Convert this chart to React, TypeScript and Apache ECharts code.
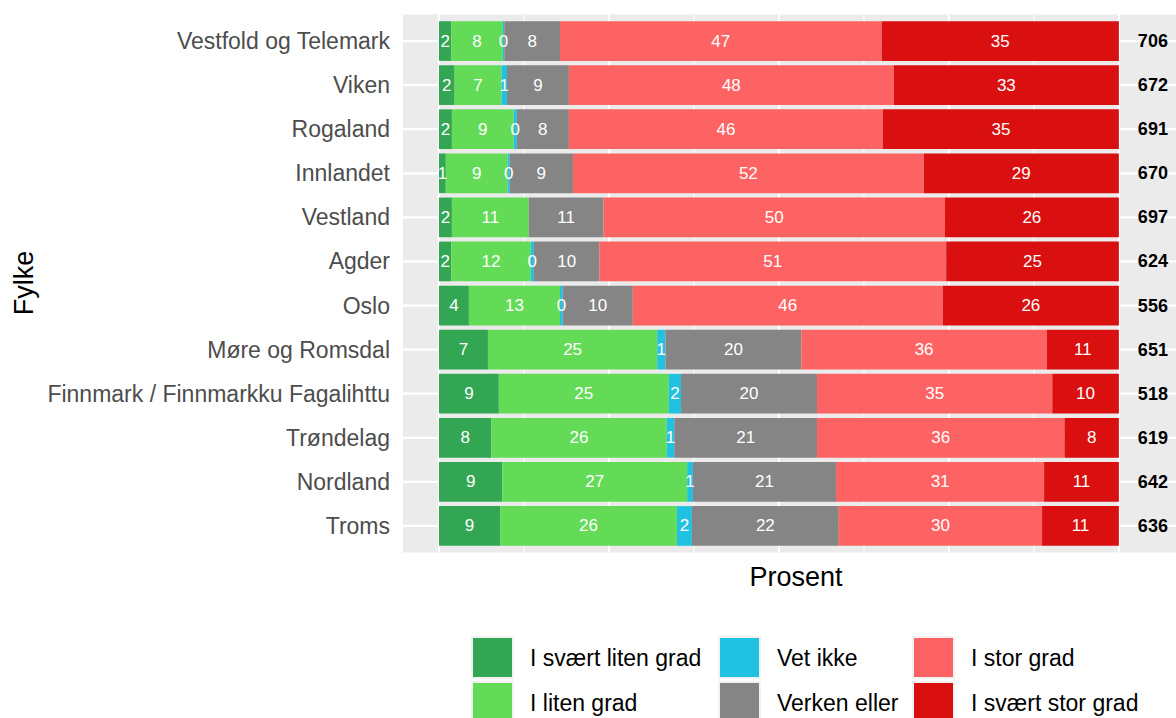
import React, { useEffect, useRef } from "react";
import * as echarts from "echarts";

const categories = [
  "Vestfold og Telemark",
  "Viken",
  "Rogaland",
  "Innlandet",
  "Vestland",
  "Agder",
  "Oslo",
  "Møre og Romsdal",
  "Finnmark / Finnmarkku Fagalihttu",
  "Trøndelag",
  "Nordland",
  "Troms",
];

const responseLevels = [
  "I svært liten grad",
  "I liten grad",
  "Vet ikke",
  "Verken eller",
  "I stor grad",
  "I svært stor grad",
];

const levelColors = ["#32A652", "#63DB57", "#21C2E1", "#858585", "#FE6363", "#DA1010"];

const sværtLitenGrad = [1.8, 2.3, 1.9, 1.0, 1.9, 1.8, 4.4, 7.2, 8.8, 7.7, 9.3, 9.0];
const litenGrad = [7.6, 6.9, 9.1, 9.1, 11.3, 11.7, 13.4, 24.9, 25.0, 25.8, 27.2, 26.0];
const vetIkke = [0.2, 0.8, 0.45, 0.3, null, 0.45, 0.4, 1.2, 1.8, 1.1, 0.85, 2.2];
const verkenEller = [8.2, 9.1, 7.65, 9.3, 11.0, 9.65, 10.3, 20.0, 20.0, 21.0, 21.05, 21.6];
const storGrad = [47.3, 47.8, 46.2, 51.6, 50.2, 51.0, 45.6, 36.1, 34.6, 36.4, 30.6, 29.9];
const sværtStorGrad = [34.9, 33.1, 34.7, 28.7, 25.6, 25.4, 25.9, 10.6, 9.8, 8.0, 11.0, 11.3];

const antallSvar = [706, 672, 691, 670, 697, 624, 556, 651, 518, 619, 642, 636];

const xBreaksMajor = [0, 25, 50, 75, 100];
const xBreaksMinor = [12.5, 37.5, 62.5, 87.5];

const seriesValues = [sværtLitenGrad, litenGrad, vetIkke, verkenEller, storGrad, sværtStorGrad];

// legend layout: column-major, 3 columns x 2 rows
const legendColumnsLeft = [471, 718, 912];
const legendRowsTop = [636, 681];

const FONT = "'Liberation Sans', Arial, Helvetica, sans-serif";

export default function App() {
  const ref = useRef<HTMLDivElement>(null);

  useEffect(() => {
    if (!ref.current) return;
    const chart = echarts.init(ref.current, undefined, { renderer: "svg" });

    const panelXMin = -5.3;
    const panelXMax = 115;
    const nLabelX = 105;

    const panelSeries = {
      type: "custom",
      name: "panel",
      z: 1,
      silent: true,
      clip: false,
      data: [[0, 0]],
      renderItem: (params: any, api: any) => {
        const band = api.size([0, 1])[1];
        const first = api.coord([0, 0]);
        const last = api.coord([0, categories.length - 1]);
        const top = first[1] - 0.6 * band;
        const bottom = last[1] + 0.6 * band;
        const left = api.coord([panelXMin, 0])[0];
        const right = api.coord([panelXMax, 0])[0];
        const children: any[] = [
          {
            type: "rect",
            shape: { x: left, y: top, width: right - left, height: bottom - top },
            style: { fill: "#EBEBEB" },
          },
        ];
        xBreaksMinor.forEach((b) => {
          const x = api.coord([b, 0])[0];
          children.push({
            type: "line",
            shape: { x1: x, y1: top, x2: x, y2: bottom },
            style: { stroke: "#FFFFFF", lineWidth: 1.1 },
          });
        });
        xBreaksMajor.forEach((b) => {
          const x = api.coord([b, 0])[0];
          children.push({
            type: "line",
            shape: { x1: x, y1: top, x2: x, y2: bottom },
            style: { stroke: "#FFFFFF", lineWidth: 2.2 },
          });
        });
        categories.forEach((_, i) => {
          const y = api.coord([0, i])[1];
          children.push({
            type: "line",
            shape: { x1: left, y1: y, x2: right, y2: y },
            style: { stroke: "#FFFFFF", lineWidth: 2.2 },
          });
        });
        return { type: "group", children };
      },
    };

    const barSeries = responseLevels.map((name, k) => ({
      type: "bar",
      name,
      stack: "total",
      z: 2,
      barWidth: "90%",
      data: seriesValues[k],
      itemStyle: { color: levelColors[k] },
      label: {
        show: true,
        position: "inside",
        color: "#FFFFFF",
        fontSize: 17,
        fontFamily: FONT,
        formatter: (p: any) => (p.value == null ? "" : String(Math.round(p.value))),
      },
    }));

    const nSeries = {
      type: "custom",
      name: "N",
      z: 3,
      silent: true,
      clip: false,
      data: antallSvar.map((n, i) => [nLabelX, i, n]),
      renderItem: (params: any, api: any) => {
        const p = api.coord([api.value(0), api.value(1)]);
        return {
          type: "text",
          x: p[0],
          y: p[1],
          style: {
            text: String(api.value(2)),
            fill: "#000000",
            font: `bold 18px ${FONT}`,
            align: "center",
            verticalAlign: "middle",
          },
        };
      },
    };

    const legends = responseLevels.map((name, k) => ({
      orient: "vertical",
      left: legendColumnsLeft[Math.floor(k / 2)],
      top: legendRowsTop[k % 2],
      padding: 0,
      itemWidth: 41,
      itemHeight: 41,
      itemGap: 4,
      icon: "rect",
      selectedMode: false,
      data: [name],
      itemStyle: { borderColor: "#F2F2F2", borderWidth: 2 },
      textStyle: { fontSize: 23, color: "#000000", fontFamily: FONT, padding: [0, 0, 0, 12] },
    }));

    chart.setOption({
      animation: false,
      backgroundColor: "#FFFFFF",
      textStyle: { fontFamily: FONT },
      grid: { left: 439, right: 0, top: 19, bottom: 170, containLabel: false },
      xAxis: {
        type: "value",
        min: 0,
        max: 108.4,
        show: false,
        splitLine: { show: false },
      },
      yAxis: {
        type: "category",
        data: categories,
        inverse: true,
        axisLine: { show: false },
        axisTick: { show: false },
        splitLine: { show: false },
        axisLabel: { color: "#4D4D4D", fontSize: 23, margin: 49, fontFamily: FONT },
      },
      legend: legends,
      graphic: [
        {
          type: "text",
          x: 24,
          y: 283,
          rotation: Math.PI / 2,
          style: {
            text: "Fylke",
            fill: "#000000",
            font: `27px ${FONT}`,
            align: "center",
            verticalAlign: "middle",
          },
        },
        {
          type: "text",
          x: 796,
          y: 577,
          style: {
            text: "Prosent",
            fill: "#000000",
            font: `27px ${FONT}`,
            align: "center",
            verticalAlign: "middle",
          },
        },
      ],
      series: [panelSeries, ...barSeries, nSeries],
    });

    return () => chart.dispose();
  }, []);

  return (
    <div
      ref={ref}
      style={{ position: "fixed", left: 0, top: 0, width: 1176, height: 718 }}
    />
  );
}
